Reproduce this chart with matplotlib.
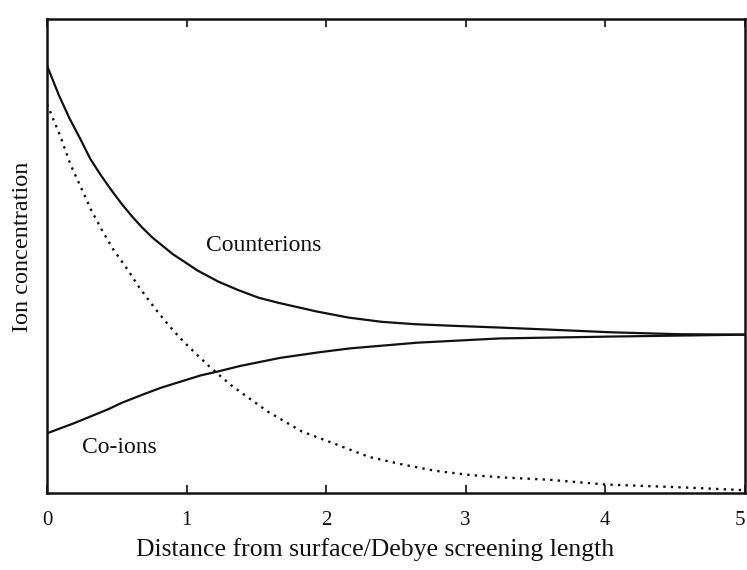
import matplotlib.pyplot as plt

# Perfiles de concentracion ionica frente a una superficie cargada
x_contra = [0, 0.086, 0.161, 0.236, 0.311, 0.386, 0.46, 0.534, 0.607, 0.681,
            0.754, 0.9, 1.08, 1.226, 1.37, 1.515, 1.66, 1.93, 2.16, 2.40, 2.64,
            2.88, 3.24, 3.57, 4.04, 4.52, 5.0]
contraiones = [0.901, 0.838, 0.790, 0.748, 0.704, 0.670, 0.639, 0.610, 0.584,
               0.560, 0.539, 0.504, 0.469, 0.446, 0.428, 0.412, 0.401, 0.383,
               0.370, 0.361, 0.356, 0.353, 0.349, 0.345, 0.339, 0.335, 0.334]

x_co = [0, 0.2, 0.44, 0.533, 0.68, 0.816, 1.1, 1.22, 1.384, 1.67, 1.954, 2.17,
        2.65, 3.24, 4.05, 5.0]
coiones = [0.126, 0.148, 0.177, 0.190, 0.207, 0.222, 0.248, 0.256, 0.268,
           0.285, 0.297, 0.305, 0.317, 0.326, 0.330, 0.334]

x_dif = [0, 0.093, 0.169, 0.245, 0.321, 0.396, 0.471, 0.58, 0.655, 0.73,
         0.804, 0.877, 0.95, 1.024, 1.098, 1.17, 1.221, 1.316, 1.462, 1.586,
         1.825, 2.06, 2.31, 2.55, 2.78, 3.03, 3.26, 3.60, 4.0, 4.55, 5.0]
diferencia = [0.820, 0.754, 0.692, 0.643, 0.594, 0.553, 0.515, 0.470, 0.436,
              0.406, 0.378, 0.352, 0.328, 0.306, 0.285, 0.265, 0.252, 0.228,
              0.197, 0.171, 0.130, 0.104, 0.076, 0.060, 0.047, 0.038, 0.033,
              0.028, 0.018, 0.012, 0.006]

ticks_x = [0, 1, 2, 3, 4, 5]
etiquetas_x = ["0", "1", "2", "3", "4", "5"]

plt.rcParams["font.family"] = ["Liberation Serif", "DejaVu Serif"]

fig = plt.figure(figsize=(7.47, 5.70), dpi=100)
ax = fig.add_axes([0.063, 0.135, 0.934, 0.832])

negro = "#111111"
ax.plot(x_contra, contraiones, color=negro, lw=1.6, solid_joinstyle="round")
ax.plot(x_co, coiones, color=negro, lw=1.6, solid_joinstyle="round")
ax.plot(x_dif, diferencia, color=negro, lw=1.7, linestyle=(0, (1, 2.2)))

ax.text(1.55, 0.523, "Counterions", fontsize=17, ha="center", va="center", color=negro)
ax.text(0.52, 0.095, "Co-ions", fontsize=17, ha="center", va="center", color=negro)

ax.set_xlim(0, 5)
ax.set_ylim(0, 1)
ax.set_xticks(ticks_x)
ax.set_xticklabels(etiquetas_x, fontsize=15, color=negro)
ax.get_xticklabels()[-1].set_ha("right")
ax.set_yticks([])
ax.tick_params(axis="x", direction="in", top=True, length=6, width=1.2,
               pad=13, color=negro)
for s in ax.spines.values():
    s.set_linewidth(1.8)
    s.set_color(negro)

ax.set_xlabel("Distance from surface/Debye screening length", fontsize=18.5,
              color=negro)
ax.xaxis.set_label_coords(0.47, -0.095)
ax.set_ylabel("Ion concentration", fontsize=17.5, color=negro)
ax.yaxis.set_label_coords(-0.020, 0.52)

fig.savefig("out.png", dpi=100)
